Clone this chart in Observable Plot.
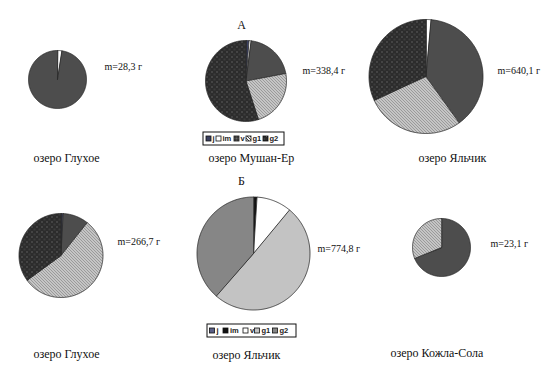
<!DOCTYPE html>
<html>
<head>
<meta charset="utf-8">
<script src="https://cdn.jsdelivr.net/npm/d3@7"></script>
<script src="https://cdn.jsdelivr.net/npm/@observablehq/plot@0.6"></script>
<style>
  html, body { margin: 0; padding: 0; background: #fff; }
  #chart svg { display: block; }
  #chart svg .serif-text text { font-family: "Liberation Serif", "Times New Roman", "DejaVu Serif", serif; }
  #chart svg .sans-text text { font-family: "Liberation Sans", Arial, sans-serif; }
</style>
</head>
<body>
<div id="chart"></div>
<script>
// Size-class composition of the catch (% of mass) in the lakes, two surveys (А, Б)
const categories = ["j", "im", "v", "g1", "g2"];
const panelTitles = ["А", "Б"];

const lakesA = ["озеро Глухое", "озеро Мушан-Ер", "озеро Яльчик"];
const massA = [28.3, 338.4, 640.1];
const sharesGlukhoeA = [0, 2.4, 97.6, 0, 0];
const sharesMushanA = [1.2, 0.8, 20.0, 23.0, 55.0];
const sharesYalchikA = [0, 1.4, 38.7, 28.0, 31.9];

const lakesB = ["озеро Глухое", "озеро Яльчик", "озеро Кожла-Сола"];
const massB = [266.7, 774.8, 23.1];
const sharesGlukhoeB = [0.8, 0, 9.9, 54.2, 35.1];
const sharesYalchikB = [0, 1.0, 10.0, 50.4, 38.6];
const sharesKozhlaB = [0, 0, 68.8, 31.2, 0];

// Fill styles: patterned set and plain grey set
const patternFill = {j: "#3b4060", im: "#ffffff", v: "url(#pat-v)", g1: "url(#pat-g1)", g2: "url(#pat-g2)"};
const greyFill = {j: "#5a5f85", im: "#111111", v: "#ffffff", g1: "#c3c3c3", g2: "#868686"};

// Page layout (pixels)
const W = 551, H = 380;
const pies = [
  {name: lakesA[0], mass: massA[0], shares: sharesGlukhoeA, fill: patternFill, cx: 57,  cy: 79,  r: 29, mx: 104, my: 66,  nx: 33,  ny: 158},
  {name: lakesA[1], mass: massA[1], shares: sharesMushanA,  fill: patternFill, cx: 245.5, cy: 80.5, r: 40.5, mx: 302, my: 70, nx: 208, ny: 158},
  {name: lakesA[2], mass: massA[2], shares: sharesYalchikA, fill: patternFill, cx: 425.5, cy: 76, r: 57, mx: 497, my: 70,  nx: 418, ny: 158},
  {name: lakesB[0], mass: massB[0], shares: sharesGlukhoeB, fill: patternFill, cx: 60.5, cy: 255, r: 42, mx: 117, my: 241, nx: 33,  ny: 354},
  {name: lakesB[1], mass: massB[1], shares: sharesYalchikB, fill: greyFill,    cx: 253, cy: 253, r: 56.5, mx: 317, my: 248, nx: 212, ny: 355},
  {name: lakesB[2], mass: massB[2], shares: sharesKozhlaB,  fill: patternFill, cx: 441, cy: 247, r: 29, mx: 490, my: 243, nx: 390, ny: 353}
];
const titles = [
  {text: panelTitles[0], x: 241, y: 25},
  {text: panelTitles[1], x: 241, y: 181}
];
const legends = [
  {fill: patternFill, x0: 203, x1: 284, y0: 132, y1: 145, sw: [206, 216, 234, 246, 263], tx: [212, 222, 240, 252, 269]},
  {fill: greyFill,    x0: 207, x1: 296, y0: 324, y1: 337, sw: [209.5, 223, 243, 254.5, 272.5], tx: [216, 229.5, 249.5, 261, 279]}
];

// Wedge outlines built from the shares with d3.pie (clockwise from 12 o'clock)
const wedgePoints = [];
pies.forEach((p, pi) => {
  const arcs = d3.pie().sort(null).value(d => d)(p.shares);
  arcs.forEach((a, k) => {
    if (a.value <= 0) return;
    const key = `${pi}-${k}`;
    const fill = p.fill[categories[k]];
    wedgePoints.push({key, fill, x: p.cx, y: p.cy});
    const steps = Math.max(2, Math.ceil((a.endAngle - a.startAngle) / (Math.PI / 180)));
    for (let s = 0; s <= steps; s++) {
      const t = a.startAngle + (a.endAngle - a.startAngle) * s / steps;
      wedgePoints.push({key, fill, x: p.cx + p.r * Math.sin(t), y: p.cy - p.r * Math.cos(t)});
    }
  });
});

const fmtMass = v => "m=" + v.toFixed(1).replace(".", ",") + " г";

const legendBoxes = legends.map(l => ({x1: l.x0, x2: l.x1, y1: l.y0, y2: l.y1}));
const legendSwatches = legends.flatMap(l => categories.map((c, k) => ({
  x1: l.sw[k], x2: l.sw[k] + 5, y1: (l.y0 + l.y1) / 2 - 2.5, y2: (l.y0 + l.y1) / 2 + 2.5, fill: l.fill[c]
})));
const legendLabels = legends.flatMap(l => categories.map((c, k) => ({
  x: l.tx[k], y: (l.y0 + l.y1) / 2, text: c
})));

const serif = "Liberation Serif, Times New Roman, DejaVu Serif, serif";
const sans = "Liberation Sans, Arial, sans-serif";

const chart = Plot.plot({
  width: W,
  height: H,
  margin: 0,
  x: {domain: [0, W], range: [0, W], axis: null},
  y: {domain: [0, H], range: [0, H], axis: null},
  color: {type: "identity"},
  style: {background: "#fff"},
  marks: [
    Plot.line(wedgePoints, {
      x: "x", y: "y", z: "key", fill: "fill",
      stroke: "#2a2a2a", strokeWidth: 0.8, strokeLinejoin: "round", curve: "linear-closed"
    }),
    Plot.text(pies, {x: "mx", y: "my", text: d => fmtMass(d.mass), textAnchor: "start",
      fontSize: 10, fontFamily: serif, fill: "#111", className: "serif-text"}),
    Plot.text(pies, {x: "nx", y: "ny", text: "name", textAnchor: "start",
      fontSize: 12, fontFamily: serif, fill: "#111", className: "serif-text"}),
    Plot.text(titles, {x: "x", y: "y", text: "text", fontSize: 12, fontFamily: serif, fill: "#111",
      className: "serif-text"}),
    Plot.rect(legendBoxes, {x1: "x1", x2: "x2", y1: "y1", y2: "y2", fill: "#fff", stroke: "#111", strokeWidth: 1}),
    Plot.rect(legendSwatches, {x1: "x1", x2: "x2", y1: "y1", y2: "y2", fill: "fill", stroke: "#111", strokeWidth: 0.8}),
    Plot.text(legendLabels, {x: "x", y: "y", text: "text", textAnchor: "start", fontSize: 7.5,
      fontWeight: "bold", fontFamily: sans, fill: "#222", className: "sans-text"})
  ]
});

// Fill patterns for the size classes
d3.select(chart).insert("defs", ":first-child").html(`
  <pattern id="pat-v" width="2" height="2" patternUnits="userSpaceOnUse">
    <rect width="2" height="2" fill="#4a4a4a"/>
    <rect x="0" y="0" width="1" height="1" fill="#666"/>
    <rect x="1" y="1" width="1" height="1" fill="#3a3a3a"/>
  </pattern>
  <pattern id="pat-g1" width="3" height="3" patternUnits="userSpaceOnUse">
    <rect width="3" height="3" fill="#f0f0f0"/>
    <path d="M0,0 L3,3 M-1,2 L1,4 M2,-1 L4,1" stroke="#444" stroke-width="1"/>
  </pattern>
  <pattern id="pat-g2" width="5" height="5" patternUnits="userSpaceOnUse">
    <rect width="5" height="5" fill="#2c2c2c"/>
    <rect x="1" y="1" width="1" height="1" fill="#8c8c8c"/>
    <rect x="3.5" y="3.5" width="1" height="1" fill="#6e6e6e"/>
  </pattern>
`);

// Make sure the label typefaces stick
d3.select(chart).selectAll(".serif-text text").style("font-family", serif);
d3.select(chart).selectAll(".sans-text text").style("font-family", sans);

document.getElementById("chart").appendChild(chart);
</script>
</body>
</html>
